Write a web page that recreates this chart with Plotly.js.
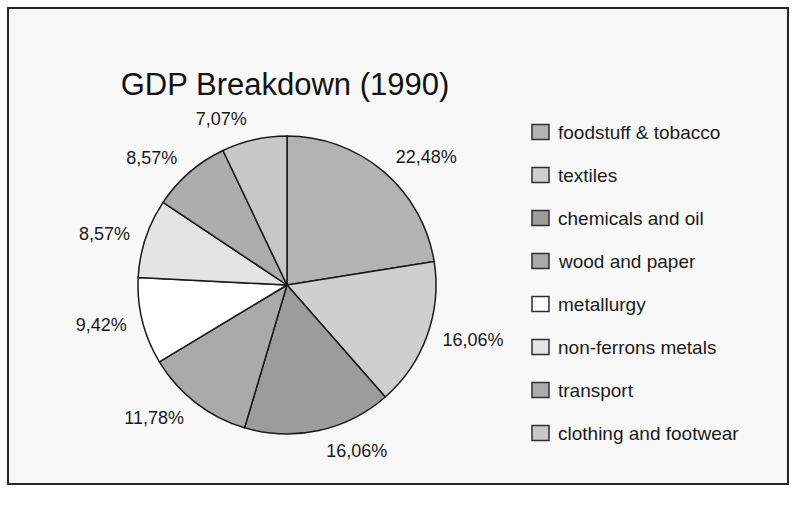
<!DOCTYPE html>
<html>
<head>
<meta charset="utf-8">
<script src="https://cdn.plot.ly/plotly-3.0.1.min.js"></script>
<style>
  html, body { margin: 0; padding: 0; background: #ffffff; }
  #chart { width: 795px; height: 511px; }
</style>
</head>
<body>
<div id="chart"></div>
<script>
// ---- data ----
const categories = [
  'foodstuff & tobacco',
  'textiles',
  'chemicals and oil',
  'wood and paper',
  'metallurgy',
  'non-ferrons metals',
  'transport',
  'clothing and footwear'
];
const shares = [22.48, 16.06, 16.06, 11.78, 9.42, 8.57, 8.57, 7.07];
const sliceColors = ['#b3b3b3', '#cfcfcf', '#9c9c9c', '#aaaaaa', '#ffffff', '#e4e4e4', '#acacac', '#c7c7c7'];
const chartTitle = 'GDP Breakdown (1990)';

// ---- layout helpers ----
const W = 795, H = 511;
const FONT = 'Liberation Sans, Arial, Helvetica, sans-serif';
const cx = 287, cy = 285, R = 149, RL = 160;
const px = x => x / W;
const py = y => (H - y) / H;

const shapes = [{
  type: 'rect', xref: 'paper', yref: 'paper', layer: 'below',
  x0: px(8), x1: px(788), y0: py(484), y1: py(8),
  fillcolor: '#f8f8f8', line: { color: '#262626', width: 2 }
}];
const annotations = [];
categories.forEach((name, i) => {
  const yc = 132 + 43 * i;
  shapes.push({
    type: 'rect', xref: 'paper', yref: 'paper',
    x0: px(532), x1: px(549), y0: py(yc + 7.5), y1: py(yc - 7.5),
    fillcolor: sliceColors[i], line: { color: '#2e2e2e', width: 1.5 }
  });
  annotations.push({
    xref: 'paper', yref: 'paper', x: px(556), y: py(yc),
    xanchor: 'left', yanchor: 'middle', showarrow: false,
    text: name, font: { family: FONT, size: 19, color: '#1a1a1a' }
  });
});

// visible pie (no text)
const pieTrace = {
  type: 'pie',
  labels: categories,
  values: shares,
  sort: false,
  direction: 'clockwise',
  rotation: 0,
  marker: { colors: sliceColors, line: { color: '#1a1a1a', width: 1.5 } },
  textinfo: 'none',
  automargin: false,
  showlegend: false,
  hoverinfo: 'label+value',
  domain: { x: [px(cx - R), px(cx + R)], y: [py(cy + R), py(cy - R)] }
};

// transparent companion pie, slightly larger, that only carries the outside labels
const labelTrace = {
  type: 'pie',
  labels: categories,
  values: shares,
  sort: false,
  direction: 'clockwise',
  rotation: 0,
  marker: { colors: categories.map(() => 'rgba(0,0,0,0)'), line: { width: 0 } },
  textposition: 'outside',
  texttemplate: '%{value:.2f}%',
  textfont: { family: FONT, size: 18, color: '#1a1a1a' },
  outsidetextfont: { family: FONT, size: 18, color: '#1a1a1a' },
  automargin: false,
  showlegend: false,
  hoverinfo: 'skip',
  domain: { x: [px(cx - RL), px(cx + RL)], y: [py(cy + RL), py(cy - RL)] }
};

const layout = {
  width: W, height: H,
  margin: { l: 0, r: 0, t: 0, b: 0 },
  paper_bgcolor: '#ffffff',
  separators: ', ',
  showlegend: false,
  title: {
    text: chartTitle,
    x: px(285), xanchor: 'center', xref: 'paper',
    y: py(84), yanchor: 'middle', yref: 'container',
    font: { family: FONT, size: 31, color: '#111111' }
  },
  shapes: shapes,
  annotations: annotations
};

Plotly.newPlot('chart', [pieTrace, labelTrace], layout, { displayModeBar: false, staticPlot: true });
</script>
</body>
</html>
